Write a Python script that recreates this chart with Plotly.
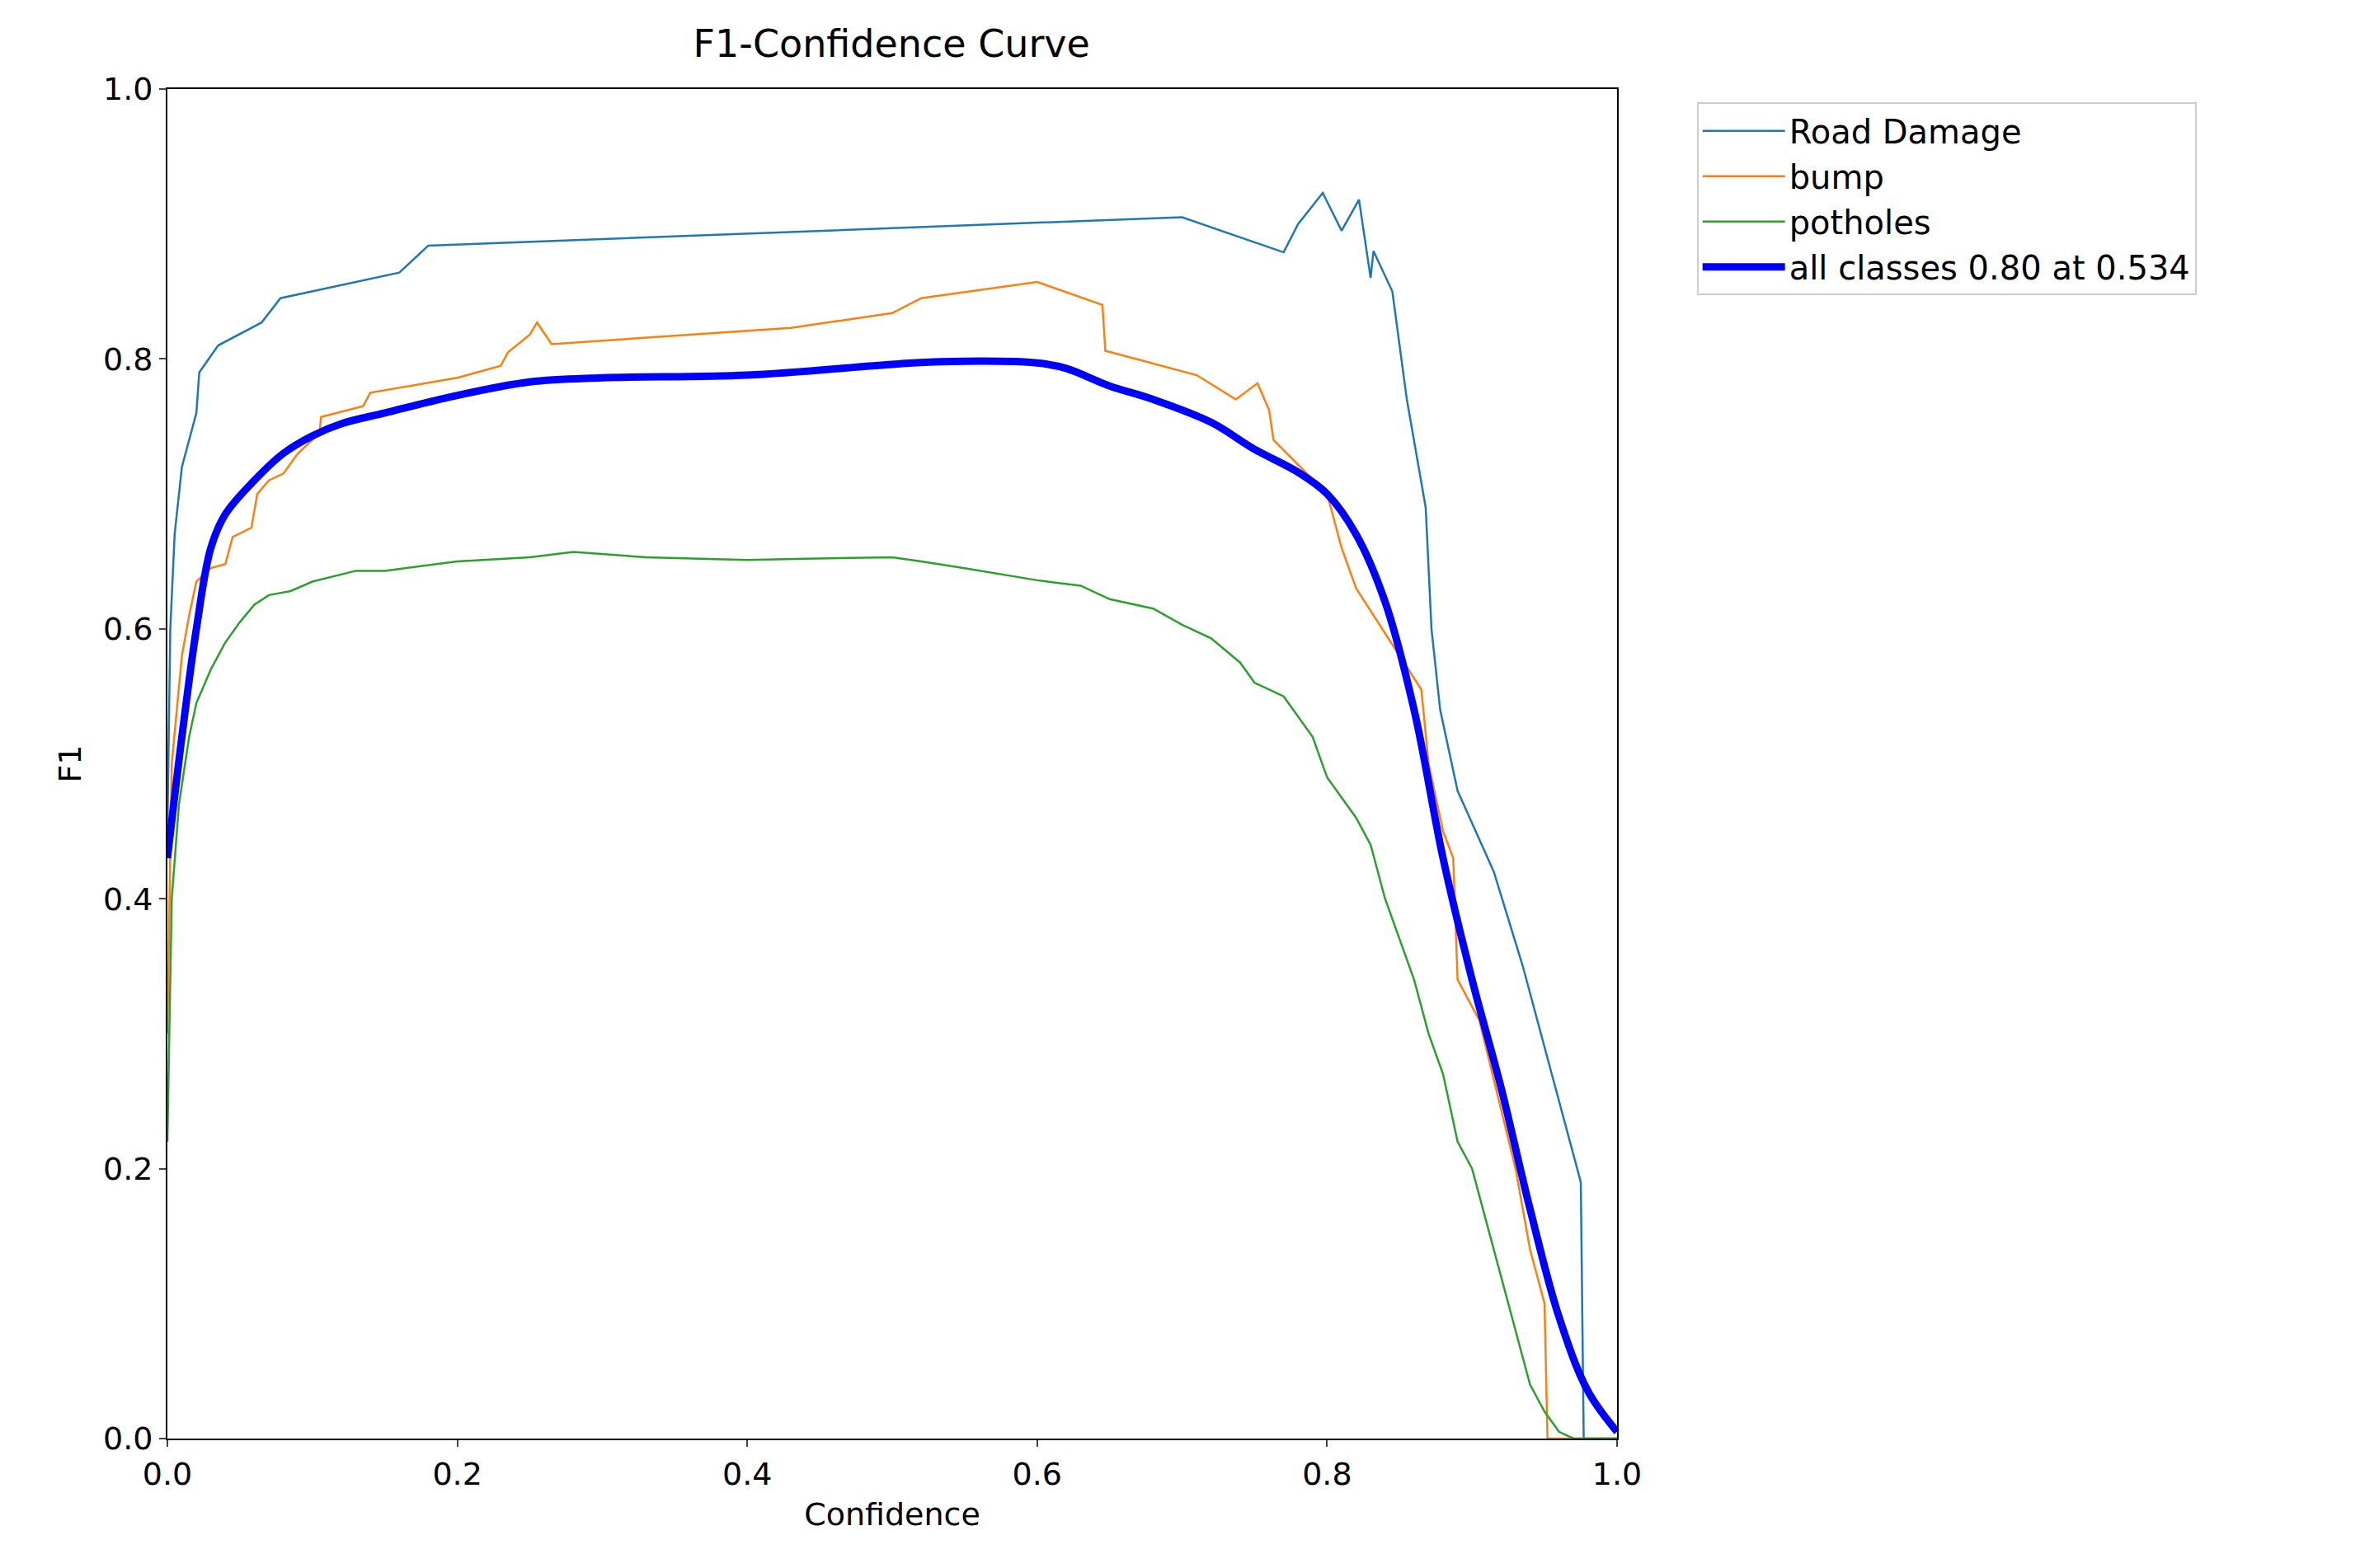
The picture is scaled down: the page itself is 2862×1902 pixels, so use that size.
import plotly.graph_objects as go

rd_x = [0,0.002,0.005,0.01,0.015,0.02,0.022,0.035,0.065,0.078,0.16,0.18,0.70,0.77,0.78,0.797,0.81,0.822,0.83,0.832,0.845,0.855,0.868,0.872,0.878,0.89,0.915,0.935,0.955,0.975,0.977,1.0]
rd_y = [0.45,0.6,0.67,0.72,0.74,0.76,0.79,0.81,0.827,0.845,0.864,0.884,0.905,0.879,0.9,0.923,0.895,0.918,0.86,0.88,0.85,0.77,0.69,0.6,0.54,0.48,0.42,0.35,0.27,0.19,0.0,0.0]

bump_x = [0,0.003,0.01,0.015,0.02,0.03,0.04,0.045,0.058,0.062,0.07,0.08,0.09,0.105,0.106,0.135,0.14,0.2,0.23,0.235,0.25,0.255,0.265,0.43,0.5,0.52,0.6,0.645,0.647,0.71,0.737,0.752,0.76,0.763,0.8,0.81,0.82,0.85,0.865,0.87,0.88,0.887,0.89,0.905,0.93,0.94,0.95,0.952,1.0]
bump_y = [0.3,0.5,0.58,0.61,0.635,0.645,0.648,0.668,0.675,0.7,0.71,0.715,0.73,0.745,0.757,0.765,0.775,0.786,0.795,0.805,0.818,0.827,0.811,0.823,0.834,0.845,0.857,0.84,0.806,0.788,0.77,0.782,0.762,0.74,0.7,0.66,0.63,0.58,0.555,0.5,0.45,0.43,0.34,0.31,0.2,0.14,0.1,0.0,0.0]

pot_x = [0,0.003,0.008,0.015,0.02,0.03,0.04,0.05,0.06,0.07,0.085,0.1,0.13,0.15,0.2,0.25,0.28,0.33,0.4,0.44,0.5,0.52,0.55,0.6,0.63,0.65,0.68,0.7,0.72,0.74,0.75,0.77,0.79,0.8,0.82,0.83,0.84,0.85,0.86,0.87,0.88,0.89,0.9,0.91,0.92,0.93,0.94,0.95,0.96,0.97,1.0]
pot_y = [0.22,0.4,0.47,0.52,0.545,0.57,0.59,0.605,0.618,0.625,0.628,0.635,0.643,0.643,0.65,0.653,0.657,0.653,0.651,0.652,0.653,0.65,0.645,0.636,0.632,0.622,0.615,0.603,0.593,0.575,0.56,0.55,0.52,0.49,0.46,0.44,0.4,0.37,0.34,0.3,0.27,0.22,0.2,0.16,0.12,0.08,0.04,0.02,0.005,0.0,0.0]

all_x = [0,0.01,0.02,0.03,0.04,0.06,0.08,0.1,0.12,0.15,0.2,0.25,0.3,0.4,0.5,0.534,0.6,0.62,0.65,0.68,0.72,0.75,0.78,0.8,0.82,0.84,0.86,0.88,0.9,0.92,0.94,0.96,0.98,1.0]
all_y = [0.43,0.52,0.6,0.66,0.685,0.71,0.73,0.743,0.752,0.76,0.773,0.783,0.786,0.788,0.796,0.798,0.797,0.793,0.78,0.77,0.753,0.733,0.716,0.7,0.67,0.62,0.54,0.43,0.34,0.26,0.17,0.09,0.035,0.005]

fig = go.Figure()
fig.add_trace(go.Scatter(x=rd_x, y=rd_y, mode="lines", name="Road Damage", line=dict(color="#1f77b4", width=2.5)))
fig.add_trace(go.Scatter(x=bump_x, y=bump_y, mode="lines", name="bump", line=dict(color="#ff7f0e", width=2.5)))
fig.add_trace(go.Scatter(x=pot_x, y=pot_y, mode="lines", name="potholes", line=dict(color="#2ca02c", width=2.5)))
fig.add_trace(go.Scatter(x=all_x, y=all_y, mode="lines", name="all classes 0.80 at 0.534", line=dict(color="blue", width=9, shape="spline")))

ax = dict(range=[0,1], dtick=0.2, tickformat=".1f", showgrid=False, zeroline=False, showline=True, mirror=True,
          linecolor="black", linewidth=2, ticks="outside", ticklen=8, tickwidth=2, tickfont=dict(size=38, color="black"))
fig.update_layout(
    width=2862, height=1902, plot_bgcolor="white", paper_bgcolor="white",
    font=dict(family="DejaVu Sans", size=38, color="black"),
    margin=dict(l=195, r=909, t=100, b=165),
    title=dict(text="F1-Confidence Curve", x=0.375, xanchor="center", y=0.985, font=dict(size=46)),
    xaxis=dict(ax, title=dict(text="Confidence", font=dict(size=38))),
    yaxis=dict(ax, title=dict(text="F1", font=dict(size=38))),
    legend=dict(x=1.055, y=0.99, xanchor="left", yanchor="top", bordercolor="#cccccc", borderwidth=2,
                font=dict(size=40), tracegroupgap=0, itemwidth=100),
)
fig.write_html("out.html")
